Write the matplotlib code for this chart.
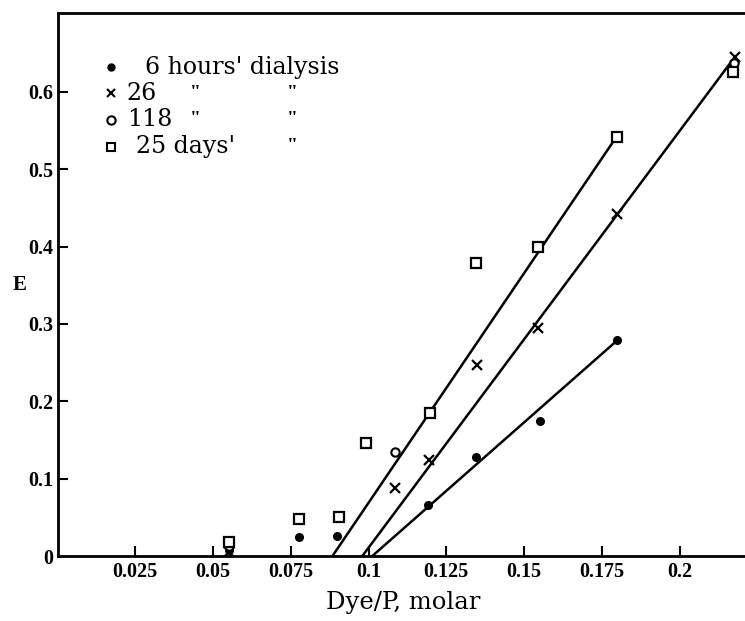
import matplotlib
matplotlib.use("Agg")
import matplotlib.pyplot as plt

plt.rcParams["font.family"] = ["Liberation Serif", "DejaVu Serif"]

# ── Data ─────────────────────────────────────────────────────────────────────
# 6 hours' dialysis (filled dots)
x_6h = [0.055, 0.0775, 0.090, 0.119, 0.1346, 0.155, 0.180]
e_6h = [0.008, 0.025, 0.026, 0.066, 0.128, 0.175, 0.279]
# 26 hours (crosses)
x_26h = [0.055, 0.1086, 0.1193, 0.135, 0.1546, 0.180, 0.2177]
e_26h = [0.005, 0.088, 0.124, 0.247, 0.295, 0.442, 0.645]
# 118 hours (open circles)
x_118h = [0.055, 0.1086, 0.2175]
e_118h = [0.013, 0.135, 0.637]
# 25 days (open squares)
x_25d = [0.055, 0.0775, 0.0906, 0.0992, 0.1199, 0.1346, 0.1543, 0.1797, 0.217]
e_25d = [0.018, 0.048, 0.051, 0.146, 0.185, 0.379, 0.400, 0.542, 0.626]

# fitted straight lines (start on the axis, end at last point)
line_6h_x = [0.1012, 0.180]
line_6h_y = [0.0, 0.279]
line_26h_x = [0.098, 0.2177]
line_26h_y = [0.0, 0.645]
line_25d_x = [0.0884, 0.1797]
line_25d_y = [0.0, 0.542]

x_ticks = [0.025, 0.05, 0.075, 0.1, 0.125, 0.15, 0.175, 0.2]
x_ticklabels = ["0.025", "0.05", "0.075", "0.1", "0.125", "0.15", "0.175", "0.2"]
y_ticks = [0, 0.1, 0.2, 0.3, 0.4, 0.5, 0.6]
y_ticklabels = ["0", "0.1", "0.2", "0.3", "0.4", "0.5", "0.6"]

# ── Figure ───────────────────────────────────────────────────────────────────
fig = plt.figure(figsize=(7.45, 6.21), dpi=100)
ax = fig.add_axes([57.5 / 745, 65 / 621, 687.5 / 745, 543 / 621])

lw = 1.8
ax.plot(line_6h_x, line_6h_y, color="black", lw=lw)
ax.plot(line_26h_x, line_26h_y, color="black", lw=lw)
ax.plot(line_25d_x, line_25d_y, color="black", lw=lw)

ax.plot(x_6h, e_6h, "o", color="black", ms=5.5, ls="none")
ax.plot(x_26h, e_26h, "x", color="black", ms=7, mew=1.6, ls="none")
ax.plot(x_118h, e_118h, "o", mfc="white", mec="black", ms=6, mew=1.5, ls="none")
ax.plot(x_25d, e_25d, "s", mfc="white", mec="black", ms=6.5, mew=1.6, ls="none")

ax.set_xlim(0, 0.221)
ax.set_ylim(0, 0.702)

ax.set_xticks(x_ticks)
ax.set_xticklabels(x_ticklabels)
ax.set_yticks(y_ticks)
ax.set_yticklabels(y_ticklabels)
ax.tick_params(direction="in", length=7, width=1.5, labelsize=14.5, pad=4)
ax.tick_params(axis="y", pad=3)
for lab in ax.get_xticklabels() + ax.get_yticklabels():
    lab.set_fontweight("bold")
ax.yaxis.get_major_ticks()[0].tick1line.set_visible(False)

for side in ["left", "bottom", "top"]:
    ax.spines[side].set_linewidth(2)
ax.spines["right"].set_visible(False)

ax.set_xlabel("Dye/P, molar", fontsize=17.5, family="DejaVu Serif")
ax.xaxis.set_label_coords(0.503, -0.065)
ax.set_ylabel("E", rotation=0, fontsize=15, fontweight="bold")
ax.yaxis.set_label_coords(-0.055, 0.48)

# ── Hand-made legend ─────────────────────────────────────────────────────────
tr = ax.transAxes
rows_y = [0.900, 0.852, 0.803, 0.754]
mx = 0.078
ax.plot([mx], [rows_y[0]], "o", color="black", ms=5, transform=tr, clip_on=False)
ax.plot([mx], [rows_y[1]], "x", color="black", ms=6, mew=1.5, transform=tr, clip_on=False)
ax.plot([mx], [rows_y[2]], "o", mfc="white", mec="black", ms=6, mew=1.5, transform=tr, clip_on=False)
ax.plot([mx], [rows_y[3]], "s", mfc="white", mec="black", ms=6, mew=1.5, transform=tr, clip_on=False)

fs = 17
leg_font = "DejaVu Serif"
ax.text(0.127, rows_y[0], "6 hours' dialysis", fontsize=fs, va="center", family=leg_font, transform=tr)
ax.text(0.101, rows_y[1], "26", fontsize=fs, va="center", family=leg_font, transform=tr)
ax.text(0.102, rows_y[2], "118", fontsize=fs, va="center", family=leg_font, transform=tr)
ax.text(0.114, rows_y[3], "25 days'", fontsize=fs, va="center", family=leg_font, transform=tr)
# ditto marks
for y in rows_y[1:3]:
    ax.text(0.201, y, "\"", fontsize=14, fontweight="bold", va="center", ha="center", transform=tr)
for y in rows_y[1:]:
    ax.text(0.341, y, "\"", fontsize=14, fontweight="bold", va="center", ha="center", transform=tr)

fig.savefig("out.png", dpi=100)
